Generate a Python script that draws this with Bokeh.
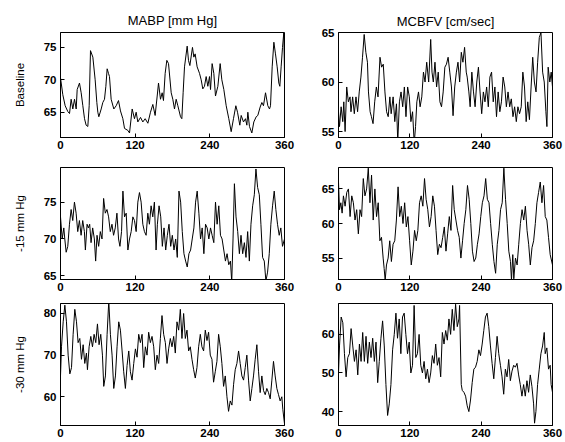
from bokeh.plotting import figure
from bokeh.layouts import column, row
from bokeh.models import FixedTicker, Range1d
from bokeh.embed import file_html
from bokeh.resources import INLINE

# ---------------- data (time in s) ----------------
x_ticks = [0, 120, 240, 360]
col_titles = ["MABP [mm Hg]", "MCBFV [cm/sec]"]
row_labels = ["Baseline", "-15 mm Hg", "-30 mm Hg"]

t_abp_base = [0,3.7,7.5,11.8,14.5,17.1,19.8,22.5,25.2,26.8,30.5,33.2,35.9,38.6,41.2,43.9,46.1,48.2,52,55.7,
              58.4,60,61.6,65.4,68,70.7,72.9,75,77.1,78.7,81.4,85.7,89.5,93.2,96.4,100.2,102.9,108.2,110.9,115.2,
              118.9,121.6,124.3,128.6,132.3,136.1,140.4,144.6,148.4,152.1,155.4,157.5,160.7,163.4,165.5,168.2,170.9,173.6,177.9,180.5,
              183.2,185.9,188.6,192.9,195,197.1,199.3,203.6,205.7,207.9,212.1,214.3,216.4,219.6,223.4,226.1,228.7,231.4,234.1,236.8,
              239.5,241.1,243.7,246.4,249.1,252.9,256.6,259.3,262.5,266.3,270.5,274.3,278,281.8,284.5,288.2,290.4,294.1,297.3,299.5,
              301.1,303.7,307.5,310.7,314.5,317.1,320.9,323.6,326.2,329.5,333.2,335.9,337.5,340.2,342.9,345.5,348.2,350.9,352.5,354.6,
              356.8,358.9,360]
v_abp_base = [70.3,67.7,66,65.1,64.8,67,65.5,67,65.5,68.5,69.5,68,66,64,63,62.8,66,74.5,73.5,70,
              66.5,65,64.3,65.5,66.5,67,69,71.7,71,70.5,67,65.5,66,66.8,65.2,64,62.5,62.2,61.8,65.5,
              64,65,63.5,64.2,63.5,64,63.3,65,66.2,64.5,67.5,69.5,67,68,66.8,71,73,72.5,68,67,
              65.5,67,66,64.3,64,68,72,75.2,73,72.2,75,73.5,74,72,71,70,68.6,69,70.5,69,
              70.5,68.5,72.5,71,67.5,69,72.5,70,68.5,66,64,62,64,66,65,63,64.5,63.5,64,63,
              65,62.8,61.8,63.5,64.3,64.5,65.8,66.5,66,68,66,65.5,66,72,75.8,74,72,69.5,69,72,
              75,77.3,71]

t_cbf_base = [0,1.7,4.4,7.2,8.9,11.1,13.8,16.6,19.4,21.0,23.8,26.6,29.4,32.1,34.9,37.7,40.4,43.2,46.0,48.7,
              50.4,53.2,55.4,58.1,60.9,63.7,66.5,69.8,72.5,75.3,78.1,80.9,83.6,86.4,88.6,91.9,94.7,97.5,99.7,102.5,
              105.2,108.0,110.8,113.5,116.3,119.1,121.8,124.6,127.4,129.6,131.8,134.6,137.3,140.1,142.9,145.6,148.4,151.7,155.1,157.3,
              159.5,162.3,165.0,167.8,170.6,173.3,176.1,178.9,181.6,184.4,187.2,190.0,192.7,195.5,198.3,201.0,203.8,206.6,209.3,212.1,
              214.9,216.5,219.3,221.5,224.3,227.1,229.8,232.6,235.4,238.1,240.9,243.7,246.4,249.2,252.0,254.7,257.5,260.3,263.1,265.8,
              268.6,271.4,274.1,276.9,279.7,282.4,285.2,288.0,290.7,293.5,296.3,299.1,301.8,304.6,307.4,310.1,312.9,315.7,318.4,321.2,
              324.0,326.7,329.5,332.3,335.0,337.8,340.6,343.4,346.1,348.9,350.6,352.7,355.5,357.8,360]
v_cbf_base = [57,55.5,57.5,56,58,55,59.5,58,58.5,57,58.5,56.8,58.5,57,59,60.5,62.5,64.8,63,62,
              59,57,56.5,55.8,58,59.5,58.5,62.5,61.5,61.8,59,57,56.5,58.5,56.8,58.5,56,57.8,54,58,
              59,57.5,59.5,56.5,59.5,58.5,56,57,53.8,55.5,58,59,57.5,58.5,61,60,62,60,64.3,61,
              60,62,59.5,61,58,57.5,59,61.5,61.8,62.5,61,59.5,56.6,59.5,61,62,60,63,62,63.5,
              61,60.5,59,57.5,61,59,57.5,60,61.5,59,56.8,59,58,59.5,57.5,60.5,61,58,59.5,56.5,
              59,57,58,60.5,59.5,57.5,59,57.5,58.3,56.5,57.5,56,57.5,56.8,57.5,61,59.5,56,58,56.2,
              59.5,62.5,60,59,62,64.5,65,61,60,57,55.5,61.5,60,61,59.5]

t_abp_15 = [0,2.7,5.3,6.9,9.1,11.7,14.4,17.1,19.7,22.4,25.1,27.7,30.4,33.1,35.7,38.4,40.0,42.7,44.8,46.9,
            49.1,51.7,54.4,56.5,58.7,61.3,64.0,66.7,69.3,72.0,74.7,77.3,80.0,82.7,85.3,88.0,90.7,93.3,95.5,98.1,
            100.3,102.9,105.6,108.3,110.9,113.6,116.3,118.9,121.6,124.3,126.9,129.6,132.3,134.9,137.6,140.3,142.9,145.6,148.3,150.9,
            153.6,155.7,158.4,161.1,163.7,166.4,169.1,171.7,174.4,177.1,179.7,182.4,185.1,187.7,190.4,193.1,195.7,198.4,201.1,203.7,
            206.4,209.1,211.7,214.4,217.1,219.7,222.4,225.1,227.7,230.4,233.1,235.7,238.4,241.1,243.7,246.4,249.1,251.7,254.4,257.1,
            259.7,262.4,265.1,267.7,270.4,273.1,275.2,277.3,279.5,282.1,284.8,287.5,290.1,292.8,295.5,298.1,300.8,303.5,306.1,308.8,
            311.5,314.1,316.8,319.5,322.1,324.8,327.5,330.1,332.8,335.5,338.1,340.8,343.5,346.1,348.8,351.5,354.1,356.8,360]
v_abp_15 = [73,70,71.5,70,68.2,69,72,74,72.5,75,73.5,71,72.5,70.5,72.5,71,68.5,72,71.5,72,
            69.5,71.5,70,67,70.5,69,71,70,75.5,73.5,74,73,71,72,70.5,71.5,73.5,70,69,71,
            76.5,73,73.5,68.5,70,71,73,72.5,71,75,76.3,75,72,71,70.5,73.5,72,74.5,73,75,
            68.5,72,74.5,73,69,71.5,68.5,70.5,72,69,70.5,68.5,70,67.5,76.5,75,71,68,67,66.2,
            68,68.5,70,71.5,75,76.5,73.5,70,71.5,68,72,71.5,70,71.5,70.5,69.5,75,72,74.5,70.5,
            70,68.5,67,68,66.5,67,64.2,70,77.5,73,71,68,70.5,68,69.5,67.5,71,67,72,74.5,
            76,79.5,77,76,72,67.5,67,64.3,65.5,68,72,74.5,76.5,74,72,70.5,71.5,69,70]

t_cbf_15 = [0,1.7,3.9,6.1,8.3,11.1,13.9,16.7,19.5,22.3,25.0,27.8,30.6,33.4,36.2,38.9,41.7,44.5,47.3,50.1,
            52.9,55.6,58.4,61.2,64.0,66.8,69.6,72.3,75.1,76.8,78.5,80.7,83.5,86.2,89.0,91.8,94.6,97.4,100.2,102.9,
            105.7,108.5,111.3,114.1,116.8,119.6,122.4,125.2,128.0,130.8,133.5,136.3,139.1,141.9,144.7,147.4,150.2,153.0,155.8,158.6,
            161.4,164.1,166.9,169.7,172.5,175.3,178.0,180.8,183.6,186.4,189.2,192.0,194.7,197.5,200.3,203.1,205.9,208.7,211.4,214.2,
            217.0,219.8,222.6,225.3,228.1,230.9,233.7,236.5,239.3,242.0,244.8,247.6,250.4,253.2,255.9,258.7,261.5,264.3,267.1,269.9,
            272.6,275.4,278.2,281.0,283.8,286.5,289.3,291.0,293.2,294.9,297.7,300.5,303.2,306.0,308.8,311.6,314.4,317.2,319.9,322.7,
            325.5,328.3,331.1,333.8,336.6,339.4,342.2,345.0,347.8,350.5,353.3,356.1,360]
v_cbf_15 = [66,62,63,61.5,64,62.5,64.5,65,61,64,63,60.5,62,58.5,62,61,66.5,64,65,68,
            63,67,60.5,65,61,63,57.5,58,55,53.5,51.8,54,55,57.5,54.5,57,57.5,60.5,65.3,61,
            62.5,60,63,59.5,61,57.5,54,56,59,57.5,59,63,64,62.5,66.5,63.5,62,59.5,61,64,
            62.5,59,55.5,57,56.5,58,59.5,56,58.5,61,59,65.5,62,60.5,59,58,55,57.5,60,62,
            65.5,63.5,60,56,54.5,55,57,58.5,61,63,64,66.5,63.5,63,60,57,54.5,52.8,57,59,
            62,63,68,63.5,60,56,54.5,51.8,55.5,52,55,54,57,60,62,60.5,62.5,59,57,54,
            56.5,57.5,60,63,64.5,66,63,65.5,61,60.5,58,55.5,54]

t_abp_30 = [0,1.6,4.3,7.0,9.6,12.3,15.0,17.7,20.3,23.0,25.7,28.3,31.0,33.7,36.4,39.0,41.7,43.3,46.0,48.7,
            51.4,54.0,56.7,59.4,62.0,64.7,67.4,69.5,72.2,74.9,77.6,80.2,82.9,85.6,88.3,90.9,93.6,96.3,99.0,101.6,
            104.3,107.0,109.7,112.3,115.0,117.7,120.4,123.0,125.7,128.4,131.1,133.7,136.4,139.1,141.7,144.4,147.1,149.8,152.4,155.1,
            157.8,160.5,163.1,165.8,168.5,171.2,173.8,176.5,179.2,181.9,184.5,187.2,189.9,192.6,195.2,197.9,200.6,203.3,205.9,208.6,
            211.3,214.0,216.6,219.3,222.0,224.7,227.3,230.0,232.7,235.4,238.0,240.7,243.4,246.0,248.7,251.4,254.1,256.8,259.4,262.1,
            264.8,267.5,270.1,272.8,275.5,278.2,280.8,283.5,286.2,288.8,291.5,294.2,296.9,299.5,302.2,304.9,307.6,310.2,312.9,315.6,
            318.3,320.9,323.6,326.3,329.0,331.6,334.3,337.0,339.7,342.3,345.0,347.7,350.4,353.0,355.7,357.3,360]
v_abp_30 = [65,72,78,82,78,70,65.5,67,75,81,78,73,74,69,72.5,68,70.5,66.5,72,74.5,
            72,75,73,77.5,72.5,75,70,62.5,65,75,83,75,70,62,65,72,78,76,71,66,
            62,67.5,71,66,64,68,71.5,69.5,75,73,75,67,72,70,75.5,73,74.5,72,66.5,70,
            68,74,79.5,75,73,68,71.5,74,72,74.5,70.5,78,76,81,74,80,74,76,71,72,
            69,66.5,64.5,67,72,75,72,71,76,73.5,75.5,70,69,63.5,66,68.5,75,72,68,62.5,
            65,60,56.5,59,58,63,66.5,68,71,68,65,64,67,70,64,59,62,65,69,72.5,
            66,61,65,61.5,60.5,62,61,59.5,64,68.5,65,62,60.5,59,60,57,53.5]

t_cbf_30 = [0,1.7,4.5,7.3,10.0,12.8,15.6,18.4,21.2,24.0,26.8,29.6,32.4,35.2,38.0,40.7,43.5,46.3,49.1,51.9,
            54.7,57.5,60.3,63.1,65.9,68.6,71.4,74.2,77.0,79.8,82.6,85.4,88.2,91.0,93.8,96.6,99.3,102.1,104.9,107.7,
            110.5,113.3,116.1,118.9,121.7,124.5,127.2,130.0,132.8,135.6,138.4,141.2,144.0,146.8,149.6,152.4,155.1,157.9,160.7,163.5,
            166.3,169.1,171.9,174.7,177.5,180.3,183.1,185.8,188.6,191.4,194.2,197.0,199.8,202.6,203.7,206.5,208.2,211.0,213.8,216.5,
            219.3,222.1,224.9,227.7,230.5,233.3,236.1,238.9,241.7,244.4,247.2,250.0,252.8,255.6,258.4,261.2,264.0,266.8,269.6,272.4,
            275.1,277.9,280.7,283.5,286.3,289.1,291.9,294.7,297.5,300.3,303.0,305.8,308.6,311.4,314.2,317.0,319.8,322.6,325.4,328.2,
            329.8,332.1,334.9,337.7,340.5,343.3,346.1,347.7,350.5,353.3,356.1,357.7,360]
v_cbf_30 = [50,57,64.5,63,55,49,54,55,61.5,57,53,56,49.5,57.5,53,60.5,53,59.5,52.5,58,
            54,59,53,58,47.5,53,59,63.5,57,47,39,42,47,56,60,65.5,59,64,55,64.5,
            65.5,60,55,58,50,52,67.5,54,55,60,52,50,53,48.5,51,47.5,50,54.5,52.5,57.5,
            52,54,49,60.5,57.5,61,58.5,64,60,66.5,61,67.8,62,64,67.5,47,45.5,45,44,41.5,
            40,43,47.5,51,51.5,53,56,54.5,57.5,61,64.5,65.5,62,57,52.5,48.5,54,59.5,55,52,
            49,44.5,51,49,53.5,48,50.5,52,51.5,52.5,49.5,47,44,47,44,48,45,49.5,46.5,42,
            37,40,47,51,55,57,60.5,55,56.5,51,52,47,45]

FONT = "Liberation Sans"


def panel(t, v, yr, yticks, w, h, bl, br, bt, bb, title=None, title_standoff=6, ylabel=None):
    n = min(len(t), len(v))
    p = figure(width=w, height=h, x_range=Range1d(0, 360), y_range=Range1d(*yr),
               output_backend="svg", toolbar_location=None, title=title,
               min_border_left=bl, min_border_right=br, min_border_top=bt, min_border_bottom=bb)
    p.line(t[:n], v[:n], line_color="black", line_width=1)
    p.xgrid.visible = False
    p.ygrid.visible = False
    p.xaxis.ticker = FixedTicker(ticks=x_ticks)
    p.yaxis.ticker = FixedTicker(ticks=yticks)
    for ax in p.xaxis + p.yaxis:
        ax.major_tick_in = 4
        ax.major_tick_out = 0
        ax.minor_tick_line_color = None
        ax.major_tick_line_color = "black"
        ax.axis_line_color = "black"
        ax.major_label_text_font = FONT
        ax.major_label_text_font_size = "11.5px"
        ax.major_label_text_font_style = "bold"
        ax.major_label_text_color = "black"
    p.xaxis.major_label_standoff = 3
    p.yaxis.major_label_standoff = 4
    if ylabel:
        p.yaxis.axis_label = ylabel
        p.yaxis.axis_label_text_font = FONT
        p.yaxis.axis_label_text_font_size = "11.5px"
        p.yaxis.axis_label_text_font_style = "normal"
        p.yaxis.axis_label_text_color = "black"
        p.yaxis.axis_label_standoff = 15
    if title:
        p.title.align = "center"
        p.title.text_font = FONT
        p.title.text_font_size = "13px"
        p.title.text_font_style = "normal"
        p.title.text_color = "black"
        p.title.standoff = title_standoff
    p.outline_line_color = "black"
    p.outline_line_width = 1
    p.background_fill_color = "white"
    p.border_fill_color = "white"
    return p


LW, RW = 298, 265
p1 = panel(t_abp_base, v_abp_base, (61.1, 77.3), [65, 70, 75], LW, 165, 60, 14, 32, 18,
           title=col_titles[0], title_standoff=10, ylabel=row_labels[0])
p2 = panel(t_cbf_base, v_cbf_base, (54.4, 65.0), [55, 60, 65], RW, 165, 40, 11, 29, 28,
           title=col_titles[1], title_standoff=8)
p3 = panel(t_abp_15, v_abp_15, (64.5, 79.7), [65, 70, 75], LW, 135, 60, 14, 2, 20,
           ylabel=row_labels[1])
p4 = panel(t_cbf_15, v_cbf_15, (51.9, 68.1), [55, 60, 65], RW, 135, 40, 11, 0, 21)
p5 = panel(t_abp_30, v_abp_30, (53.1, 82.4), [60, 70, 80], LW, 146, 60, 14, 3, 20,
           ylabel=row_labels[2])
p6 = panel(t_cbf_30, v_cbf_30, (36.4, 68.0), [40, 50, 60], RW, 146, 40, 11, 2, 21)

layout = column(row(p1, p2), row(p3, p4), row(p5, p6))

open("out.html", "w").write(file_html(layout, INLINE))
